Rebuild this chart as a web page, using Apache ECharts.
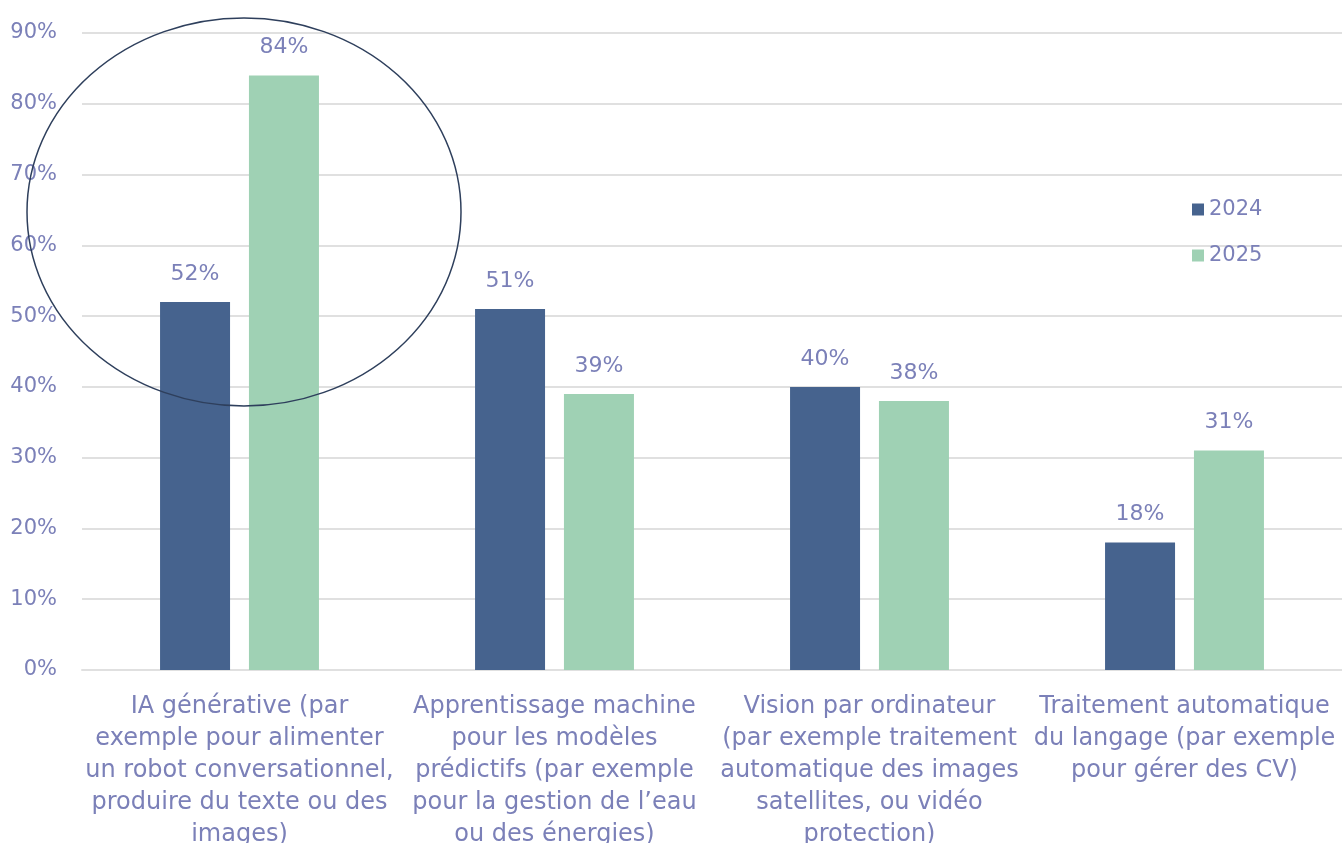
<!DOCTYPE html>
<html>
<head>
<meta charset="utf-8">
<script src="https://cdn.jsdelivr.net/npm/echarts@6/dist/echarts.min.js"></script>
<style>
  html, body { margin: 0; padding: 0; background: #fff; }
  #chart { width: 1342px; height: 843px; }
</style>
</head>
<body>
<div id="chart"></div>
<script>
const categories = [
  'IA générative (par\nexemple pour alimenter\nun robot conversationnel,\nproduire du texte ou des\nimages)',
  'Apprentissage machine\npour les modèles\nprédictifs (par exemple\npour la gestion de l’eau\nou des énergies)',
  'Vision par ordinateur\n(par exemple traitement\nautomatique des images\nsatellites, ou vidéo\nprotection)',
  'Traitement automatique\ndu langage (par exemple\npour gérer des CV)'
]
const values2024 = [52, 51, 40, 18]
const values2025 = [84, 39, 38, 31]

const TEXT = '#7b80b8'
const FONT = 'DejaVu Sans'

const chart = echarts.init(document.getElementById('chart'), null, { renderer: 'canvas' })

const barLabel = {
  show: true,
  position: 'top',
  distance: 17,
  formatter: '{c}%',
  color: TEXT,
  fontFamily: FONT,
  fontSize: 22
}

chart.setOption({
  backgroundColor: '#fff',
  animation: false,
  textStyle: { fontFamily: FONT },
  grid: { left: 82, right: 0, top: 33, bottom: 173, containLabel: false, outerBoundsMode: 'none' },
  legend: {
    orient: 'vertical',
    left: 1187,
    top: 194,
    itemWidth: 12,
    itemHeight: 12,
    itemGap: 25,
    icon: 'rect',
    textStyle: { color: TEXT, fontSize: 21, fontFamily: FONT },
    data: ['2024', '2025']
  },
  xAxis: {
    type: 'category',
    data: categories,
    axisLine: { lineStyle: { color: '#e0e0e0', width: 2 } },
    axisTick: { show: false },
    axisLabel: {
      interval: 0,
      color: TEXT,
      fontFamily: FONT,
      fontSize: 24,
      lineHeight: 32,
      margin: 21,
      align: 'center'
    }
  },
  yAxis: {
    type: 'value',
    min: 0,
    max: 90,
    interval: 10,
    axisLine: { show: false },
    axisTick: { show: false },
    axisLabel: {
      formatter: '{value}%',
      color: TEXT,
      fontFamily: FONT,
      fontSize: 21,
      margin: 25
    },
    splitLine: { lineStyle: { color: '#e0e0e0', width: 2 } }
  },
  series: [
    {
      name: '2024',
      type: 'bar',
      data: values2024,
      barWidth: 70,
      barGap: '27%',
      itemStyle: { color: '#46638e' },
      label: barLabel
    },
    {
      name: '2025',
      type: 'bar',
      data: values2025,
      barWidth: 70,
      itemStyle: { color: '#9fd1b4' },
      label: barLabel
    }
  ],
  graphic: [
    {
      type: 'circle',
      x: 244,
      y: 212,
      scaleY: 194 / 217,
      shape: { cx: 0, cy: 0, r: 217 },
      style: { fill: 'none', stroke: '#2e3f5c', lineWidth: 1.5 },
      z: 100
    }
  ]
})
</script>
</body>
</html>
